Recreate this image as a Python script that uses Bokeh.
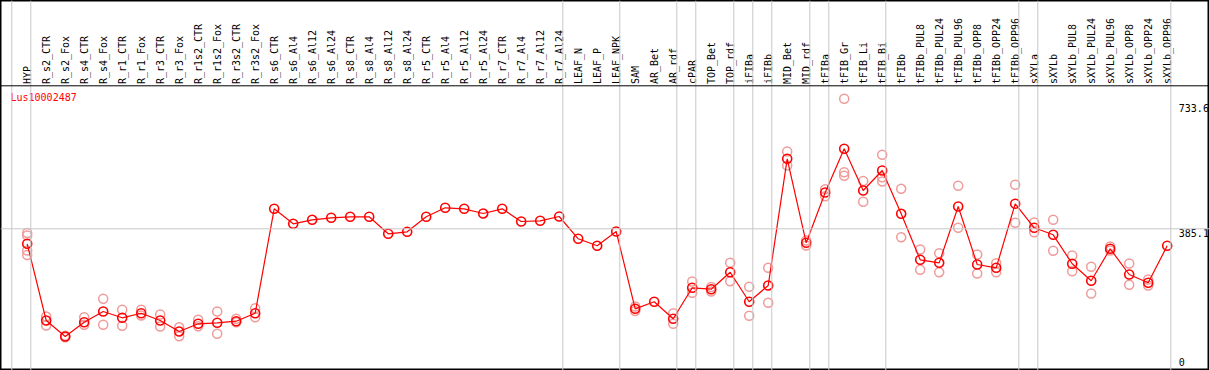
import math
from bokeh.plotting import figure
from bokeh.models import ColumnDataSource, Range1d, Span
from bokeh.core.properties import value
from bokeh.embed import file_html
from bokeh.resources import INLINE

# ---------------- data ----------------
gene = "Lus10002487"

categories = [
    "HYP",
    "R_s2_CTR", "R_s2_Fox", "R_s4_CTR", "R_s4_Fox", "R_r1_CTR", "R_r1_Fox",
    "R_r3_CTR", "R_r3_Fox", "R_r1s2_CTR", "R_r1s2_Fox", "R_r3s2_CTR", "R_r3s2_Fox",
    "R_s6_CTR", "R_s6_Al4", "R_s6_Al12", "R_s6_Al24",
    "R_s8_CTR", "R_s8_Al4", "R_s8_Al12", "R_s8_Al24",
    "R_r5_CTR", "R_r5_Al4", "R_r5_Al12", "R_r5_Al24",
    "R_r7_CTR", "R_r7_Al4", "R_r7_Al12", "R_r7_Al24",
    "LEAF_N", "LEAF_P", "LEAF_NPK",
    "SAM", "AR_Bet", "AR_rdf",
    "cPAR",
    "TOP_Bet", "TOP_rdf",
    "iFIBa",
    "iFIBb",
    "MID_Bet", "MID_rdf",
    "tFIBa",
    "tFIB_Gr", "tFIB_Li", "tFIB_Bi",
    "tFIBb", "tFIBb_PUL8", "tFIBb_PUL24", "tFIBb_PUL96",
    "tFIBb_OPP8", "tFIBb_OPP24", "tFIBb_OPP96",
    "sXYLa",
    "sXYLb", "sXYLb_PUL8", "sXYLb_PUL24", "sXYLb_PUL96",
    "sXYLb_OPP8", "sXYLb_OPP24", "sXYLb_OPP96",
]

# number of consecutive categories in each separated group
group_sizes = [1, 28, 3, 3, 1, 2, 1, 1, 2, 1, 3, 7, 1, 7]

means = [
    344.9,
    139.3, 96.4, 134.7, 163.4, 146.5, 158.8,
    139.3, 109.8, 130.4, 133.1, 137.4, 158.8,
    438.7, 398.5, 409.2, 414.6,
    417.3, 417.3, 371.7, 377.0,
    417.3, 441.4, 438.7, 426.1,
    438.7, 404.7, 406.5, 418.1,
    358.3, 339.5, 377.9,
    170.6, 189.4, 143.8,
    226.9,
    223.2, 268.7,
    189.4,
    233.1,
    572.7, 347.6,
    482.4,
    599.5, 487.8, 541.4,
    425.3, 302.0, 293.9, 444.9,
    289.4, 280.5, 452.1,
    387.8,
    369.0, 291.3, 245.7, 331.5,
    262.6, 240.3, 339.5,
]

replicates = [
    [373.8, 367.1, 327.0, 314.9],
    [150.0, 125.8], [94.5, 98.5], [148.1, 127.7], [197.4, 127.7], [167.9, 125.1], [167.9, 152.7],
    [155.3, 123.2], [121.3, 97.2], [141.1, 124.0], [163.4, 103.6], [143.8, 134.7], [172.2, 148.1],
    [], [], [], [],
    [], [], [], [],
    [], [], [], [],
    [], [], [], [],
    [], [], [],
    [176.8, 164.7], [], [158.8, 130.4],
    [243.8, 213.5],
    [217.0, 229.0], [293.9, 244.6],
    [229.6, 151.9],
    [280.5, 186.7],
    [592.3, 554.8], [340.3, 353.7],
    [491.1, 472.2],
    [733.6, 536.8, 527.2], [513.2, 457.7], [583.7, 523.4, 511.9],
    [492.3, 362.3], [329.6, 275.2], [319.7, 268.7], [500.4, 387.8],
    [316.2, 265.3], [292.9, 268.7], [503.1, 401.2],
    [402.0, 376.0],
    [409.2, 326.1], [313.5, 271.4], [283.2, 211.6], [337.6, 326.9],
    [292.1, 235.0], [249.2, 233.1], [],
]

axis_labels = ["733.6", "385.1", "0"]
axis_values = [733.6, 385.1, 0.0]

# ---------------- layout (pixels inside the figure) ----------------
W, H = 1209, 370
X_FIRST = 26.7          # px of the first category
X_STEP = 19.0           # px between categories
Y_ZERO = 371.95         # px of value 0
Y_TOP_VAL = 98.3        # px of the top scale value
PX_PER_UNIT = (Y_ZERO - Y_TOP_VAL) / axis_values[0]


def vx(px):
    return (px - X_FIRST) / X_STEP


def vy(py):
    return (Y_ZERO - py) / PX_PER_UNIT


p = figure(
    width=W, height=H,
    x_range=Range1d(vx(0), vx(W)),
    y_range=Range1d(vy(H), vy(0)),
    x_axis_location=None, y_axis_location=None,
    toolbar_location=None, output_backend="svg",
    min_border=0,
)
p.xgrid.visible = False
p.ygrid.visible = False
p.outline_line_color = "black"
p.outline_line_width = 2
p.background_fill_color = "white"
p.border_fill_color = "white"

GRID = "#c8c8c8"

# group separators
boundary = -1
p.add_layout(Span(location=boundary + 0.19, dimension="height",
                  line_color=GRID, line_width=1))
for g in group_sizes:
    boundary += g
    p.add_layout(Span(location=boundary + 0.19, dimension="height",
                      line_color=GRID, line_width=1))

# horizontal reference line
p.add_layout(Span(location=axis_values[1], dimension="width",
                  line_color=GRID, line_width=1))

# header separator
p.add_layout(Span(location=vy(85.3), dimension="width",
                  line_color="black", line_width=1))

# header labels
idx = list(range(len(categories)))
p.text(x=idx, y=[vy(83.6)] * len(idx), text=categories, angle=math.pi / 2,
       text_align="left", text_baseline="middle",
       text_font=value("DejaVu Sans Mono"), text_font_size="10px",
       text_color="black")

# gene name
p.text(x=[vx(10)], y=[vy(97.3)], text=[gene], text_align="left",
       text_baseline="middle", text_font=value("DejaVu Sans Mono"),
       text_font_size="10px", text_color="red")

# scale labels on the right
p.text(x=[vx(1178.3)] * 3, y=[vy(107.3), vy(232.3), vy(361.7)], text=axis_labels,
       text_align="left", text_baseline="middle",
       text_font=value("DejaVu Sans Mono"), text_font_size="10px",
       text_color="black")

# replicates
rx, ry = [], []
for i, reps in enumerate(replicates):
    for r in reps:
        rx.append(i)
        ry.append(r)
p.scatter(rx, ry, marker="circle", size=9, fill_color=None,
          line_color="#f09a9a", line_width=1.5)

# mean line and points
src = ColumnDataSource(dict(x=idx, y=means))
p.line("x", "y", source=src, line_color="red", line_width=1.2)
p.scatter("x", "y", source=src, marker="circle", size=9, fill_color=None,
          line_color="red", line_width=1.6)

open("out.html", "w").write(file_html(p, INLINE))
